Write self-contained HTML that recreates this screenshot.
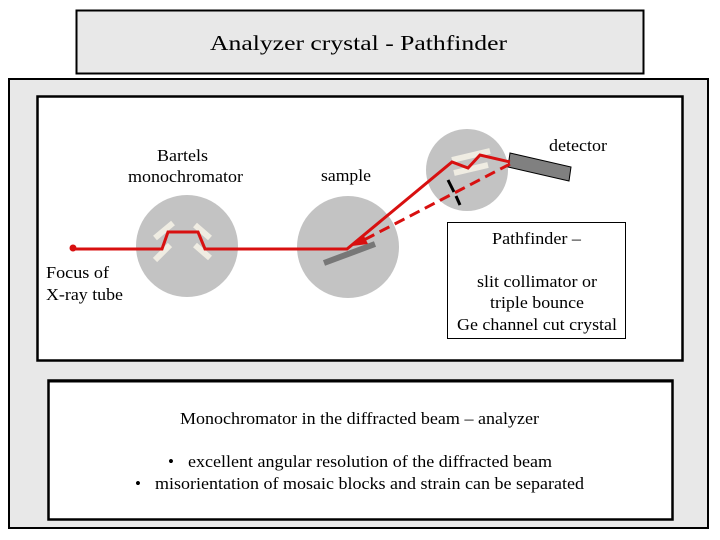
<!DOCTYPE html>
<html><head><meta charset="utf-8"><style>
body{margin:0;background:#fff;}
svg{display:block;}
text{font-family:"Liberation Serif",serif;fill:#000;}
</style></head><body>
<svg width="720" height="540" viewBox="0 0 720 540" xmlns="http://www.w3.org/2000/svg">
<rect x="0" y="0" width="720" height="540" fill="#fff"/>
<rect x="76.5" y="10.5" width="567" height="63" fill="#e8e8e8" stroke="#000" stroke-width="2"/>
<text x="210" y="50" font-size="21" textLength="297" lengthAdjust="spacingAndGlyphs">Analyzer crystal - Pathfinder</text>
<rect x="9" y="79" width="699" height="449" fill="#e8e8e8" stroke="#000" stroke-width="2"/>
<rect x="37.5" y="96.5" width="645" height="264" fill="#fff" stroke="#000" stroke-width="2.5"/>
<rect x="48.5" y="380.5" width="624" height="139" fill="#fff" stroke="#000" stroke-width="2.5"/>
<line x1="48" y1="381" x2="673" y2="381" stroke="#000" stroke-width="3"/>
<circle cx="187" cy="246" r="51" fill="#c3c3c3"/>
<circle cx="348" cy="247" r="51" fill="#c3c3c3"/>
<circle cx="467" cy="170" r="41" fill="#c3c3c3"/>
<g stroke="#efece2" stroke-width="6" stroke-linecap="butt">
<line x1="155" y1="238" x2="173" y2="223"/>
<line x1="155" y1="260" x2="170" y2="245"/>
<line x1="195" y1="225" x2="210" y2="238"/>
<line x1="195" y1="245" x2="210" y2="258"/>
<line x1="452" y1="160" x2="490" y2="151"/>
<line x1="454" y1="173" x2="488" y2="165"/>
</g>
<line x1="324" y1="263" x2="375" y2="244" stroke="#777" stroke-width="6"/>
<polygon points="510,153 571,167 569,181 508,167" fill="#808080" stroke="#000" stroke-width="1"/>
<line x1="448" y1="180" x2="454" y2="192" stroke="#000" stroke-width="3"/>
<line x1="456" y1="196" x2="460" y2="205" stroke="#000" stroke-width="3"/>
<circle cx="73" cy="248" r="3.5" fill="#d81010"/>
<polyline points="73,249 162,249 168,232 198,232 205,249 347,249 452,162 468,168 480,155 510,162" fill="none" stroke="#d81010" stroke-width="3"/>
<line x1="510" y1="164" x2="362" y2="241" stroke="#d81010" stroke-width="3" stroke-dasharray="11,6"/>
<polygon points="352,246 364,236 368,244" fill="#d81010"/>
<g font-size="17">
<text x="157" y="161" textLength="51" lengthAdjust="spacingAndGlyphs">Bartels</text>
<text x="128" y="182" textLength="115" lengthAdjust="spacingAndGlyphs">monochromator</text>
<text x="321" y="181" textLength="50" lengthAdjust="spacingAndGlyphs">sample</text>
<text x="549" y="151" textLength="58" lengthAdjust="spacingAndGlyphs">detector</text>
<rect x="44" y="262" width="84" height="46" fill="#fff"/>
<text x="46" y="278" textLength="63" lengthAdjust="spacingAndGlyphs">Focus of</text>
<text x="46" y="300" textLength="77" lengthAdjust="spacingAndGlyphs">X-ray tube</text>
<rect x="447.5" y="222.5" width="178" height="116" fill="#fff" stroke="#000" stroke-width="1"/>
<text x="492" y="244" textLength="89" lengthAdjust="spacingAndGlyphs">Pathfinder –</text>
<text x="477" y="287" textLength="120" lengthAdjust="spacingAndGlyphs">slit collimator or</text>
<text x="490" y="308" textLength="94" lengthAdjust="spacingAndGlyphs">triple bounce</text>
<text x="457" y="330" textLength="160" lengthAdjust="spacingAndGlyphs">Ge channel cut crystal</text>
<text x="180" y="424" textLength="359" lengthAdjust="spacingAndGlyphs">Monochromator in the diffracted beam – analyzer</text>
<text x="168" y="467">•</text>
<text x="188" y="467" textLength="364" lengthAdjust="spacingAndGlyphs">excellent angular resolution of the diffracted beam</text>
<text x="135" y="489">•</text>
<text x="155" y="489" textLength="429" lengthAdjust="spacingAndGlyphs">misorientation of mosaic blocks and strain can be separated</text>
</g>
</svg>
</body></html>
